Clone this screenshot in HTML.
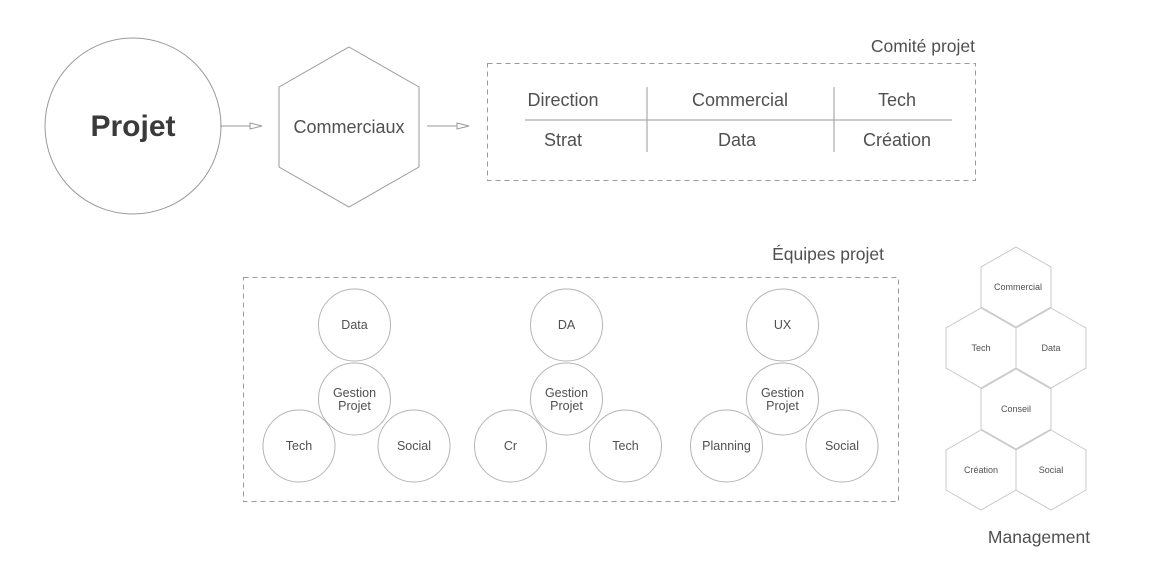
<!DOCTYPE html>
<html><head><meta charset="utf-8"><style>
html,body{margin:0;padding:0;background:#fff;}
svg{display:block;}
text{font-family:"Liberation Sans","DejaVu Sans",sans-serif;fill:#505050;}
</style></head><body>
<svg width="1166" height="573" viewBox="0 0 1166 573" xmlns="http://www.w3.org/2000/svg">
<defs>
<marker id="ar" markerWidth="14" markerHeight="10" refX="13" refY="5" orient="auto" markerUnits="userSpaceOnUse">
<path d="M1,2 L13,5 L1,8 Z" fill="#fff" stroke="#999" stroke-width="1"/>
</marker>
</defs>
<g fill="none" stroke="#9a9a9a" stroke-width="1">
<circle cx="133" cy="126" r="88"/>
<polygon points="349,47 419,87 419,167 349,207 279,167 279,87"/>
<line x1="220" y1="126" x2="262" y2="126" marker-end="url(#ar)"/>
<line x1="427" y1="126" x2="469" y2="126" marker-end="url(#ar)"/>
<rect x="487.5" y="63.5" width="488" height="117" stroke-dasharray="5,4"/>
<line x1="525" y1="120" x2="952" y2="120"/>
<line x1="647" y1="87" x2="647" y2="152"/>
<line x1="834" y1="87" x2="834" y2="152"/>
<rect x="243.5" y="277.5" width="655" height="224" stroke-dasharray="5,4"/>
</g>
<g fill="none" stroke="#b5b5b5" stroke-width="1">
<circle cx="354.5" cy="325" r="36"/><circle cx="354.5" cy="399" r="36"/><circle cx="299" cy="446" r="36"/><circle cx="414" cy="446" r="36"/>
<circle cx="566.5" cy="325" r="36"/><circle cx="566.5" cy="399" r="36"/><circle cx="510.5" cy="446" r="36"/><circle cx="625.5" cy="446" r="36"/>
<circle cx="782.5" cy="325" r="36"/><circle cx="782.5" cy="399" r="36"/><circle cx="726.5" cy="446" r="36"/><circle cx="842" cy="446" r="36"/>
</g>
<g fill="none" stroke="#c8c8c8" stroke-width="1">
<polygon points="1016,247 1051,267 1051,307 1016,327 981,307 981,267"/>
<polygon points="981,308 1016,328 1016,368 981,388 946,368 946,328"/>
<polygon points="1051,308 1086,328 1086,368 1051,388 1016,368 1016,328"/>
<polygon points="1016,369 1051,389 1051,429 1016,449 981,429 981,389"/>
<polygon points="981,430 1016,450 1016,490 981,510 946,490 946,450"/>
<polygon points="1051,430 1086,450 1086,490 1051,510 1016,490 1016,450"/>
</g>
<text x="133" y="136" text-anchor="middle" font-size="30" font-weight="bold" style="fill:#3a3a3a">Projet</text>
<text x="349" y="133" text-anchor="middle" font-size="18">Commerciaux</text>
<text x="975" y="52" text-anchor="end" font-size="17.5">Comité projet</text>
<g font-size="18" text-anchor="middle">
<text x="563" y="106">Direction</text><text x="740" y="106">Commercial</text><text x="897" y="106">Tech</text>
<text x="563" y="146">Strat</text><text x="737" y="146">Data</text><text x="897" y="146">Création</text>
</g>
<text x="884" y="260" text-anchor="end" font-size="17.5">Équipes projet</text>
<g font-size="12.5" text-anchor="middle">
<text x="354.5" y="329">Data</text><text x="354.5" y="397">Gestion</text><text x="354.5" y="410">Projet</text><text x="299" y="450">Tech</text><text x="414" y="450">Social</text>
<text x="566.5" y="329">DA</text><text x="566.5" y="397">Gestion</text><text x="566.5" y="410">Projet</text><text x="510.5" y="450">Cr</text><text x="625.5" y="450">Tech</text>
<text x="782.5" y="329">UX</text><text x="782.5" y="397">Gestion</text><text x="782.5" y="410">Projet</text><text x="726.5" y="450">Planning</text><text x="842" y="450">Social</text>
</g>
<g font-size="9" text-anchor="middle">
<text x="1018" y="290">Commercial</text><text x="981" y="351">Tech</text><text x="1051" y="351">Data</text>
<text x="1016" y="412">Conseil</text><text x="981" y="473">Création</text><text x="1051" y="473">Social</text>
</g>
<text x="1039" y="543" text-anchor="middle" font-size="17.5">Management</text>
</svg>
</body></html>
